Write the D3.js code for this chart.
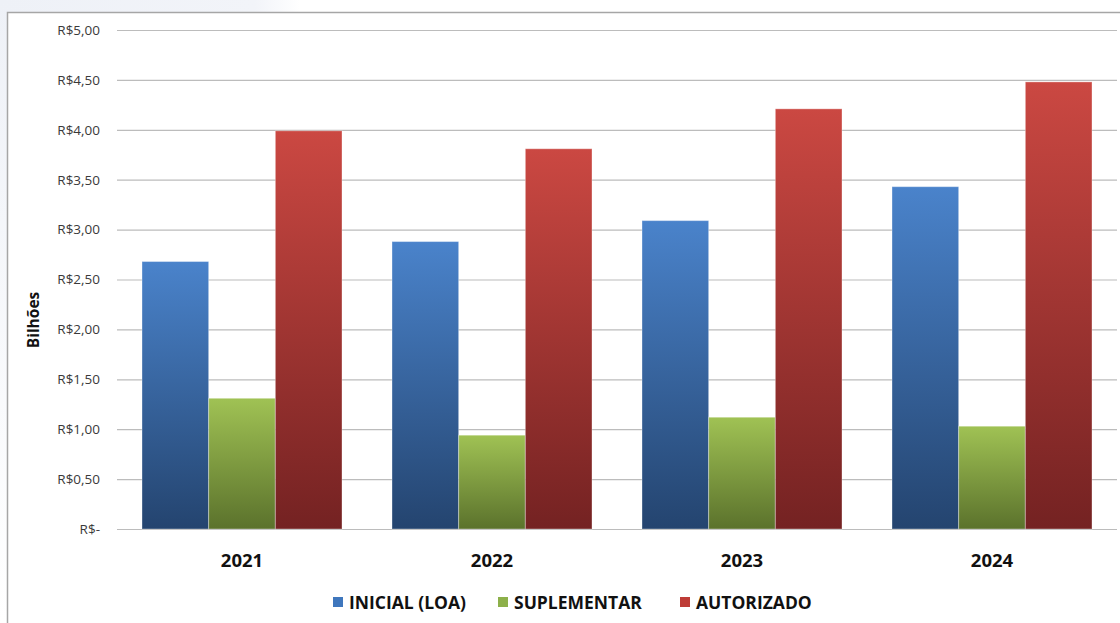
<!DOCTYPE html>
<html><head><meta charset="utf-8">
<script src="https://cdn.jsdelivr.net/npm/d3@7"></script>
<style>html,body{margin:0;padding:0;background:#fff;overflow:hidden}</style>
</head><body>
<svg id="c" width="1120" height="623"></svg>
<script>
const categories = ["2021", "2022", "2023", "2024"];
const seriesNames = ["INICIAL (LOA)", "SUPLEMENTAR", "AUTORIZADO"];
const inicial = [2.68, 2.88, 3.09, 3.43];
const suplementar = [1.31, 0.94, 1.12, 1.03];
const autorizado = [3.99, 3.81, 4.21, 4.48];
const yTicks = [0, 0.5, 1, 1.5, 2, 2.5, 3, 3.5, 4, 4.5, 5];
const yTickLabels = ["R$-", "R$0,50", "R$1,00", "R$1,50", "R$2,00", "R$2,50", "R$3,00", "R$3,50", "R$4,00", "R$4,50", "R$5,00"];

(function () {
const seriesValues = [inicial, suplementar, autorizado];
const gradColors = [["#4a83cb", "#24446f"], ["#a0c254", "#5b722c"], ["#cb4842", "#742222"]];
const legendColors = ["#3f77bd", "#8db04a", "#be3c37"];

const svg = d3.select("#c");
const defs = svg.append("defs");

// background outside frame
const bg = defs.append("linearGradient").attr("id", "bgG").attr("x1", 0).attr("x2", 1).attr("y1", 0).attr("y2", 0);
bg.append("stop").attr("offset", 0).attr("stop-color", "#eef1f7");
bg.append("stop").attr("offset", 0.85).attr("stop-color", "#f2f4f9");
bg.append("stop").attr("offset", 1).attr("stop-color", "#ffffff");
svg.append("rect").attr("x", 0).attr("y", 0).attr("width", 300).attr("height", 12).attr("fill", "url(#bgG)");
const bg2 = defs.append("linearGradient").attr("id", "bgG2").attr("x1", 0).attr("x2", 0).attr("y1", 0).attr("y2", 1);
bg2.append("stop").attr("offset", 0).attr("stop-color", "#eef1f7");
bg2.append("stop").attr("offset", 1).attr("stop-color", "#ffffff");
svg.append("rect").attr("x", 0).attr("y", 0).attr("width", 7).attr("height", 623).attr("fill", "url(#bgG2)");

// frame
svg.append("path").attr("d", "M7.5,623 V12.5 H1120").attr("fill", "none").attr("stroke", "#a6a6a6").attr("stroke-width", 1.5);

gradColors.forEach((c, i) => {
  const g = defs.append("linearGradient").attr("id", "g" + i).attr("x1", 0).attr("x2", 0).attr("y1", 0).attr("y2", 1);
  g.append("stop").attr("offset", 0).attr("stop-color", c[0]);
  g.append("stop").attr("offset", 1).attr("stop-color", c[1]);
});

const pl = 117, pr = 1117, pt = 30, pb = 529;
const y = d3.scaleLinear().domain([0, 5]).range([pb, pt]);
const x0 = d3.scaleBand().domain(categories).range([pl, pr]).paddingInner(0.2).paddingOuter(0.1);
const x1 = d3.scaleBand().domain(d3.range(3)).range([0, x0.bandwidth()]);

// gridlines + ticks
const yAxis = d3.axisLeft(y).tickValues(yTicks).tickSize(-(pr - pl)).tickPadding(17)
  .tickFormat((d, i) => yTickLabels[i]);
const ga = svg.append("g").attr("transform", `translate(${pl},0)`).call(yAxis);
ga.select(".domain").remove();
ga.selectAll(".tick line").attr("stroke", "#bcbcbc").attr("stroke-width", 1.2);
ga.selectAll(".tick text").attr("font-family", "'Open Sans', sans-serif").attr("font-size", 13.5).attr("fill", "#3a3a3a");

// bars
categories.forEach((cat, ci) => {
  seriesValues.forEach((vals, si) => {
    svg.append("rect")
      .attr("x", x0(cat) + x1(si))
      .attr("y", y(vals[ci]))
      .attr("width", x1.bandwidth())
      .attr("height", y(0) - y(vals[ci]))
      .attr("fill", `url(#g${si})`)
      .attr("stroke", "rgba(255,255,255,0.35)")
      .attr("stroke-width", 1);
  });
});

// x labels
const xAxis = d3.axisBottom(x0).tickSize(0).tickPadding(0);
const gx = svg.append("g").attr("transform", `translate(0,${pb})`).call(xAxis);
gx.select(".domain").remove();
gx.selectAll(".tick text").attr("y", 38).attr("dy", null)
  .attr("font-family", "'Open Sans', sans-serif").attr("font-size", 18.5).attr("font-weight", "bold").attr("fill", "#111");

// y title
svg.append("text").attr("transform", "translate(39,320) rotate(-90)").attr("text-anchor", "middle")
  .attr("font-family", "'Open Sans', sans-serif").attr("font-size", 15.5).attr("font-weight", "bold").attr("fill", "#111").text("Bilhões");

// legend
const legendX = [333, 498, 680];
seriesNames.forEach((n, i) => {
  const g = svg.append("g").attr("transform", `translate(${legendX[i]},597)`);
  g.append("rect").attr("x", 0).attr("y", 0).attr("width", 10).attr("height", 10).attr("fill", legendColors[i]);
  g.append("text").attr("x", 16).attr("y", 12).attr("font-family", "'Open Sans', sans-serif").attr("font-size", 17.5)
    .attr("font-weight", "bold").attr("fill", "#111").text(n);
});
})();
</script>
</body></html>
